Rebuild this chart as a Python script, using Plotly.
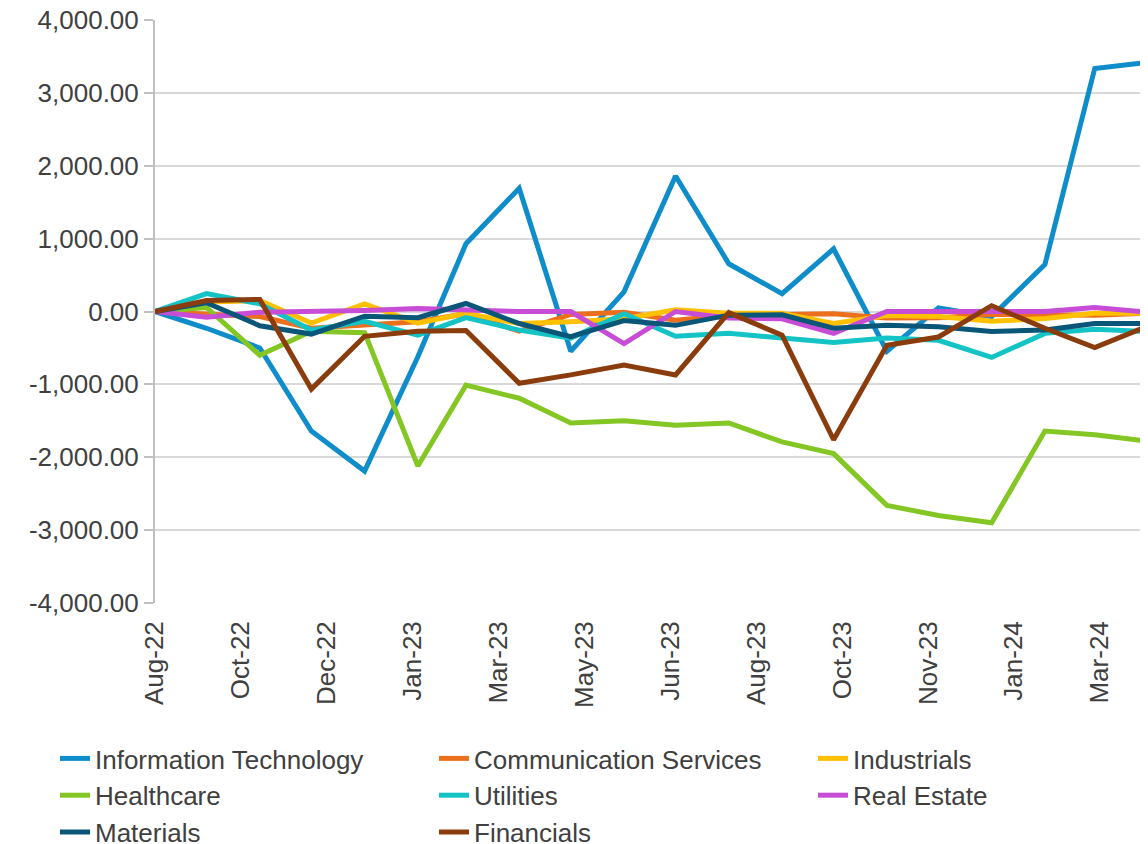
import plotly.graph_objects as go
import pandas as pd

# month-end dates, Aug-22 .. Mar-24
dates = pd.date_range("2022-08-31", periods=20, freq="ME")

info_tech = [0, -230, -500, -1640, -2190, -620, 930, 1690, -545, 270,
             1860, 655, 245, 860, -545, 50, -70, 645, 3335, 3420]
comm_services = [0, -40, -70, -230, -190, -140, -30, -270, -40, -10,
                 -120, -50, -40, -30, -90, -85, -40, -40, -50, -25]
industrials = [0, 130, 150, -160, 105, -160, -25, -165, -140, -100,
               25, -25, -25, -165, -55, -70, -135, -95, -25, -25]
healthcare = [0, 55, -600, -270, -290, -2120, -1010, -1190, -1530, -1500,
              -1560, -1530, -1790, -1950, -2660, -2800, -2900, -1640, -1690, -1780]
utilities = [0, 245, 105, -255, -135, -325, -85, -255, -365, -30,
             -340, -300, -365, -425, -365, -395, -630, -300, -245, -275]
real_estate = [0, -80, -10, 0, 15, 40, 15, 0, 0, -440,
               0, -90, -100, -300, 0, 0, 0, 0, 55, -10]
materials = [0, 120, -195, -310, -65, -85, 110, -165, -345, -125,
             -190, -50, -45, -230, -190, -210, -275, -255, -165, -165]
financials = [0, 150, 165, -1065, -340, -270, -260, -985, -870, -735,
              -870, -15, -325, -1760, -465, -350, 80, -230, -495, -200]

# y tick labels (plain hyphen minus, as in the original)
y_ticks = [-4000, -3000, -2000, -1000, 0, 1000, 2000, 3000, 4000]
y_labels = [f"{v:,.2f}" for v in y_ticks]

series = [
    ("Information Technology", info_tech, "#0E8DCA"),
    ("Communication Services", comm_services, "#EC6F1E"),
    ("Industrials", industrials, "#FFC000"),
    ("Healthcare", healthcare, "#84C623"),
    ("Utilities", utilities, "#14C3C6"),
    ("Real Estate", real_estate, "#C84DD6"),
    ("Materials", materials, "#0A5679"),
    ("Financials", financials, "#8B3C0C"),
]

fig = go.Figure()
for name, vals, col in series:
    fig.add_trace(go.Scatter(x=dates, y=vals, name=name, mode="lines",
                             line=dict(color=col, width=5)))

# page body has an 8px margin, so the figure is sized/placed to offset it
fig.update_layout(
    width=1140, height=836,
    margin=dict(l=147, r=0, t=12, b=241, autoexpand=False),
    plot_bgcolor="white", paper_bgcolor="white",
    font=dict(family="Liberation Sans, Arial", size=26, color="#404040"),
    showlegend=True,
    legend=dict(orientation="h", x=-0.1007, xanchor="left", y=-0.2264, yanchor="top",
                entrywidth=334, entrywidthmode="pixels",
                font=dict(size=26, color="#404040"), traceorder="normal"),
)
fig.update_xaxes(
    type="date", range=["2022-08-31", "2024-03-31"], automargin=False,
    tick0="2022-08-31", dtick=50 * 86400000, tickformat="%b-%y",
    tickangle=-90, showgrid=False, showline=False, ticks="",
    ticklabelstandoff=12, ticklabeloverflow="allow",
    tickfont=dict(size=26, color="#404040"),
)
fig.update_yaxes(
    range=[-4000, 4000], tickvals=y_ticks, ticktext=y_labels, automargin=False,
    showgrid=True, gridcolor="#D9D9D9", gridwidth=2, zeroline=False,
    showline=True, linecolor="#C0C0C0", linewidth=2,
    ticks="outside", ticklen=9, tickcolor="#C0C0C0", tickwidth=2,
    ticklabeloverflow="allow",
    tickfont=dict(size=26, color="#404040"),
)
fig.write_html("out.html")
